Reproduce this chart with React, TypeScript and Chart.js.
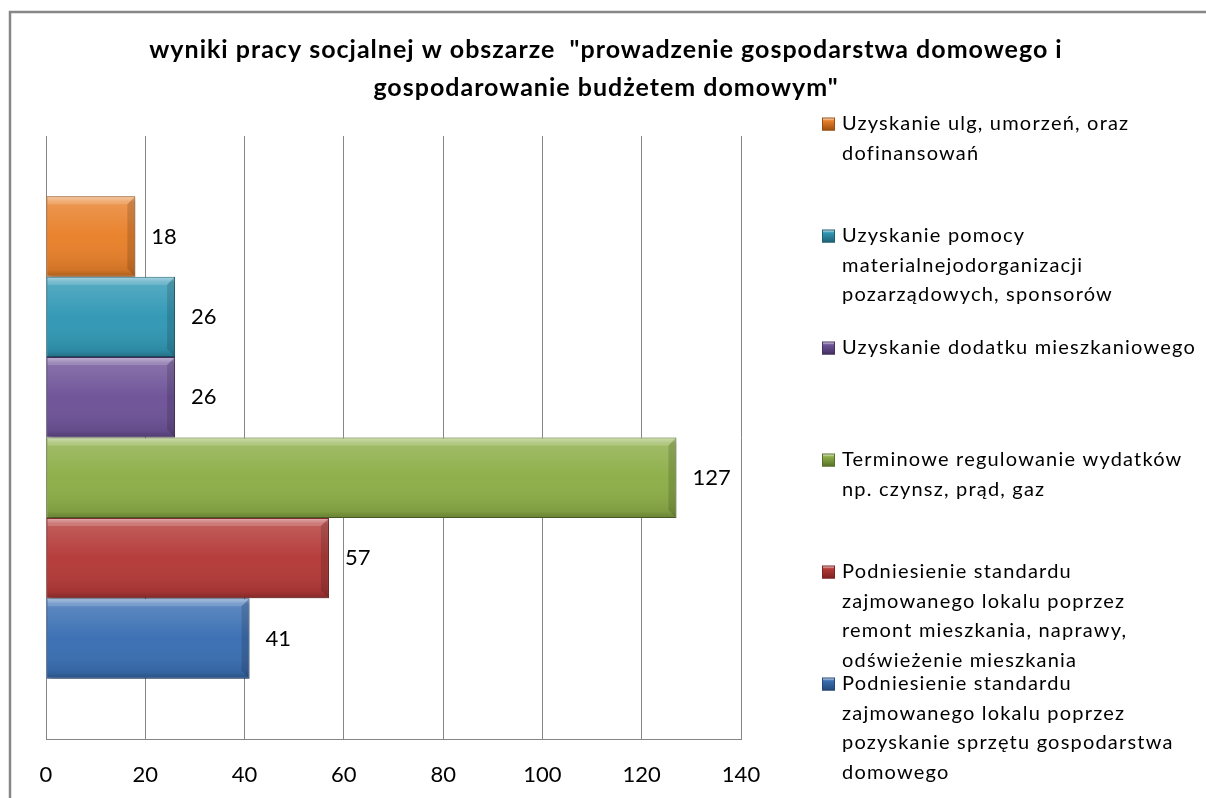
import React, { useEffect, useRef } from 'react';
import { Chart, registerables } from 'chart.js';

Chart.register(...registerables);

const titleLines = [
  'wyniki pracy socjalnej w obszarze  "prowadzenie gospodarstwa domowego i',
  'gospodarowanie budżetem domowym"',
];

const categories = [''];

const seriesLabels: string[][] = [
  ['Uzyskanie ulg, umorzeń, oraz', 'dofinansowań'],
  ['Uzyskanie pomocy', 'materialnejodorganizacji', 'pozarządowych, sponsorów'],
  ['Uzyskanie dodatku mieszkaniowego'],
  ['Terminowe regulowanie wydatków', 'np. czynsz, prąd, gaz'],
  ['Podniesienie standardu', 'zajmowanego lokalu poprzez', 'remont mieszkania, naprawy,', 'odświeżenie mieszkania'],
  ['Podniesienie standardu', 'zajmowanego lokalu poprzez', 'pozyskanie sprzętu gospodarstwa', 'domowego'],
];

const seriesValues = [18, 26, 26, 127, 57, 41];

const mainColors = ['#E8802A', '#3198B5', '#6E5398', '#8CAE47', '#B43A38', '#3A6FB3'];
const borderColors = ['#9A4E10', '#1F5F72', '#45305F', '#56702A', '#7A2322', '#244877'];

const xMin = 0;
const xMax = 140;
const xStep = 20;

const FONT = 'Lato, "Open Sans", sans-serif';

const decor = {
  id: 'decor',
  beforeDraw(chart: any) {
    const ctx = chart.ctx;
    ctx.save();
    ctx.fillStyle = '#ffffff';
    ctx.fillRect(0, 0, chart.width, chart.height);
    ctx.strokeStyle = '#878787';
    ctx.lineWidth = 2.5;
    ctx.beginPath();
    ctx.moveTo(10, chart.height + 5);
    ctx.lineTo(10, 12);
    ctx.lineTo(chart.width + 5, 12);
    ctx.stroke();
    ctx.fillStyle = '#000';
    ctx.font = `bold 25px ${FONT}`;
    ctx.textAlign = 'left';
    ctx.textBaseline = 'middle';
    try { ctx.letterSpacing = '1px'; } catch (e) {}
    titleLines.forEach((t, i) => {
      const w = ctx.measureText(t).width;
      ctx.fillText(t, 606 - w / 2, 50 + i * 38);
    });
    ctx.restore();
  },
  beforeDatasetDraw(chart: any) {
    const ctx = chart.ctx;
    ctx.save();
    ctx.shadowColor = 'rgba(0,0,0,0.28)';
    ctx.shadowBlur = 5;
    ctx.shadowOffsetX = 2;
    ctx.shadowOffsetY = 3;
  },
  afterDatasetDraw(chart: any, args: any) {
    const ctx = chart.ctx;
    ctx.restore();
    const meta = chart.getDatasetMeta(args.index);
    ctx.save();
    meta.data.forEach((el: any) => {
      const { x, y, base, height } = el.getProps(['x', 'y', 'base', 'height'], true);
      const top = y - height / 2;
      const bottom = y + height / 2;
      const left = Math.min(base, x);
      const right = Math.max(base, x);
      const g = ctx.createLinearGradient(0, top, 0, bottom);
      g.addColorStop(0, 'rgba(255,255,255,0.5)');
      g.addColorStop(0.07, 'rgba(255,255,255,0.18)');
      g.addColorStop(0.5, 'rgba(255,255,255,0.02)');
      g.addColorStop(0.92, 'rgba(0,0,0,0.10)');
      g.addColorStop(1, 'rgba(0,0,0,0.28)');
      ctx.fillStyle = g;
      ctx.fillRect(left + 1, top + 1, right - left - 2, bottom - top - 2);
      const bw = 7;
      ctx.beginPath();
      ctx.moveTo(right - 1, top + 1);
      ctx.lineTo(right - 1, bottom - 1);
      ctx.lineTo(right - 1 - bw, bottom - 1 - bw);
      ctx.lineTo(right - 1 - bw, top + 1 + bw);
      ctx.closePath();
      ctx.fillStyle = 'rgba(0,0,0,0.14)';
      ctx.fill();
      ctx.beginPath();
      ctx.moveTo(left + 1, top + 1);
      ctx.lineTo(right - 1, top + 1);
      ctx.lineTo(right - 1 - bw, top + 1 + bw);
      ctx.lineTo(left + 1, top + 1 + bw);
      ctx.closePath();
      ctx.fillStyle = 'rgba(255,255,255,0.18)';
      ctx.fill();
    });
    ctx.restore();
  },
  afterDatasetsDraw(chart: any) {
    const ctx = chart.ctx;
    ctx.save();
    ctx.fillStyle = '#000';
    ctx.font = `22px ${FONT}`;
    ctx.textAlign = 'left';
    ctx.textBaseline = 'middle';
    chart.data.datasets.forEach((ds: any, i: number) => {
      const meta = chart.getDatasetMeta(i);
      meta.data.forEach((el: any, j: number) => {
        const { x, y } = el.getProps(['x', 'y'], true);
        ctx.fillText(String(ds.data[j]), x + 16, y);
      });
    });
    ctx.restore();
  },
  afterDraw(chart: any) {
    const ctx = chart.ctx;
    ctx.save();
    ctx.font = `20px ${FONT}`;
    try { ctx.letterSpacing = '1.2px'; } catch (e) {}
    ctx.fillStyle = '#000';
    ctx.textAlign = 'left';
    ctx.textBaseline = 'middle';
    chart.data.datasets.forEach((ds: any, i: number) => {
      const y0 = 124 + i * 112;
      const bx = 822;
      const bs = 13;
      const by = y0 - bs / 2;
      const g = ctx.createLinearGradient(0, by, 0, by + bs);
      g.addColorStop(0, '#ffffff');
      g.addColorStop(0.25, ds.backgroundColor);
      g.addColorStop(1, ds.borderColor);
      ctx.fillStyle = g;
      ctx.fillRect(bx, by, bs, bs);
      ctx.strokeStyle = ds.borderColor;
      ctx.lineWidth = 1;
      ctx.strokeRect(bx + 0.5, by + 0.5, bs - 1, bs - 1);
      ctx.fillStyle = '#000';
      (ds.label as string[]).forEach((line, k) => {
        ctx.fillText(line, 842, y0 + k * 29.5);
      });
    });
    ctx.restore();
  },
};

export default function App() {
  const ref = useRef<HTMLCanvasElement | null>(null);
  useEffect(() => {
    if (!ref.current) return;
    const chart = new Chart(ref.current, {
      type: 'bar',
      data: {
        labels: categories,
        datasets: seriesValues.map((v, i) => ({
          label: seriesLabels[i] as any,
          data: [v],
          backgroundColor: mainColors[i],
          borderColor: borderColors[i],
          borderWidth: 1,
          categoryPercentage: 0.8,
          barPercentage: 1,
        })),
      },
      options: {
        indexAxis: 'y',
        responsive: false,
        animation: false,
        devicePixelRatio: 1,
        layout: { padding: { left: 46, right: 465, top: 136, bottom: 0 } },
        plugins: {
          legend: { display: false },
          title: { display: false },
          tooltip: { enabled: false },
        },
        scales: {
          y: { type: 'category', display: false },
          x: {
            min: xMin,
            max: xMax,
            afterFit: (scale: any) => {
              scale.height = 59;
            },
            ticks: {
              stepSize: xStep,
              padding: 23,
              color: '#000',
              font: { family: FONT, size: 22 },
            },
            grid: { color: '#868686', drawTicks: false, lineWidth: 1 },
            border: { color: '#868686' },
          },
        },
      },
      plugins: [decor],
    } as any);
    return () => chart.destroy();
  }, []);
  return (
    <canvas
      ref={ref}
      width={1206}
      height={798}
      style={{ position: 'absolute', left: 0, top: 0, display: 'block' }}
    />
  );
}
